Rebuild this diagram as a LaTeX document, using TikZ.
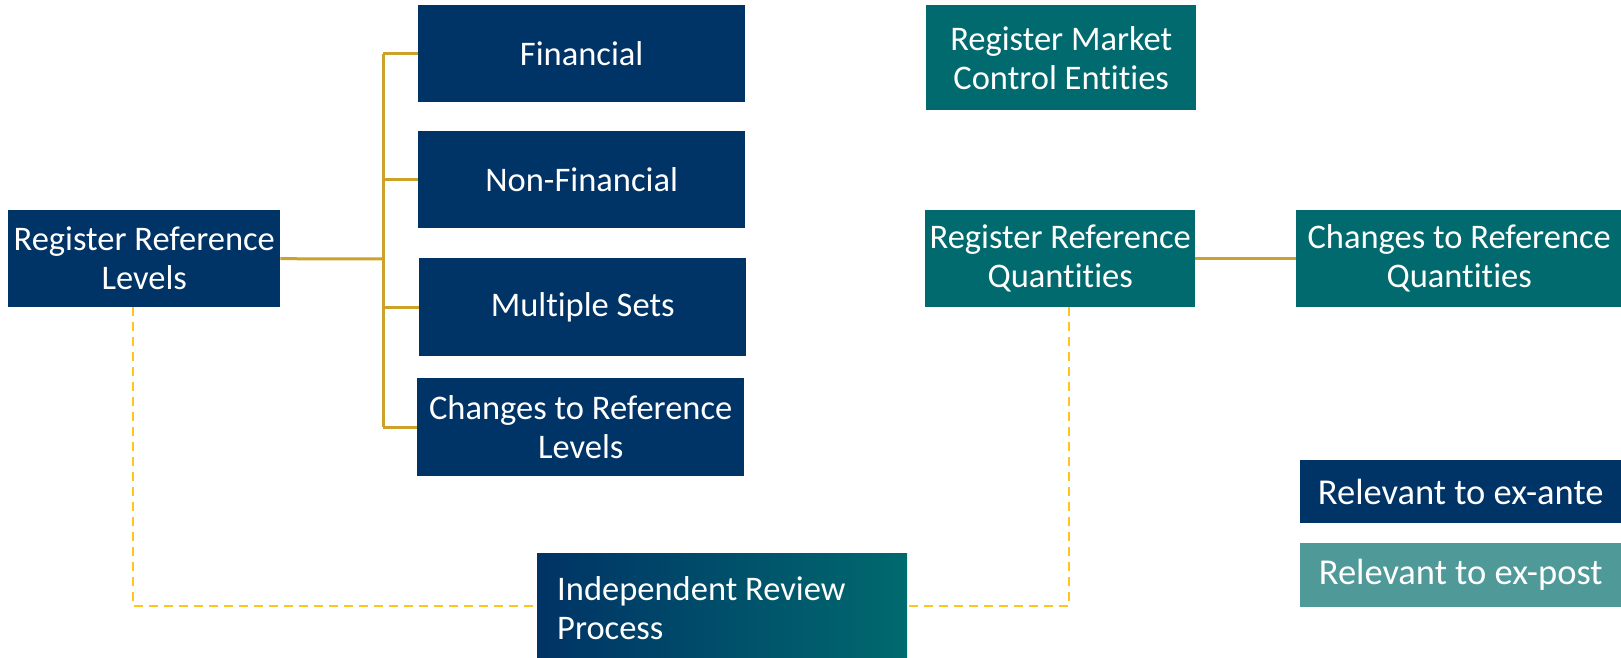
\documentclass[tikz,border=0pt]{standalone}
\usepackage{fontspec}
\setmainfont{Carlito}[Ligatures=NoCommon]
\usepackage{xcolor}
\definecolor{navy}{RGB}{0,51,102}
\definecolor{teal}{RGB}{0,106,110}
\definecolor{lightteal}{RGB}{79,153,153}
\definecolor{gold}{RGB}{204,162,40}
\definecolor{dashyellow}{RGB}{255,196,30}

\begin{document}
\begin{tikzpicture}[x=1pt,y=-1pt]
\tikzset{
  box/.style={anchor=north west, fill=navy, text=white, inner sep=0pt, align=center,
    font=\fontsize{34.5}{39}\selectfont},
  antebox/.style={box, fill=navy},
  postbox/.style={box, fill=teal},
  keybox/.style={box, font=\fontsize{36.5}{40}\selectfont},
  tree/.style={gold, line width=3pt},
  review/.style={dashyellow, line width=2pt, dash pattern=on 9pt off 6pt}
}
\useasboundingbox (0,0) rectangle (1621,658);
% left tree
\node[antebox, minimum width=272pt, minimum height=97pt] (rrl) at (8,210) {Register Reference\\Levels};
\node[antebox, minimum width=327pt, minimum height=97pt] (fin) at (418,5) {Financial};
\node[antebox, minimum width=327pt, minimum height=97pt] (nonfin) at (418,131) {Non-Financial};
\node[antebox, minimum width=327pt, minimum height=98pt] (multi) at (419,258) {Multiple Sets};
\node[antebox, minimum width=327pt, minimum height=98pt] (chl) at (417,378) {Changes to Reference\\Levels};
% right side
\node[postbox, minimum width=270pt, minimum height=105pt] (rmce) at (926,5) {Register Market\\Control Entities};
\node[postbox, minimum width=270pt, minimum height=97pt] (rrq) at (925,210) {Register Reference\\Quantities};
\node[postbox, minimum width=326pt, minimum height=97pt] (crq) at (1296,210) {Changes to Reference\\Quantities};
% legend
\node[keybox, fill=navy, minimum width=321pt, minimum height=63pt] (ante) at (1300,460) {Relevant to ex-ante};
\node[keybox, fill=lightteal, minimum width=321pt, minimum height=64pt] (post) at (1300,543) {Relevant to ex-post};
% review process
\node[box, fill=none, left color=navy, right color=teal, minimum width=370pt, minimum height=110pt,
  inner xsep=20pt, inner ysep=0pt] (irp) at (537,553)
  {\raisebox{7pt}{\parbox{330pt}{\raggedright Independent Review\\Process}}};

% connectors
\coordinate (spine) at (383,259);
\draw[tree] (rrl.east) -- (spine);
\draw[tree] (fin.west -| spine) -- (chl.west -| spine);
\foreach \n in {fin,nonfin,multi,chl}
  \draw[tree] (\n.west -| spine) -- (\n.west);
\draw[tree] (rrq.east) -- (crq.west);

\coordinate (dl) at (133,606);
\coordinate (dr) at (1069,606);
\draw[review] (rrl.south -| dl) -- (dl) -- (irp.west |- dl);
\draw[review] (rrq.south -| dr) -- (dr) -- (irp.east |- dr);
\end{tikzpicture}
\end{document}
